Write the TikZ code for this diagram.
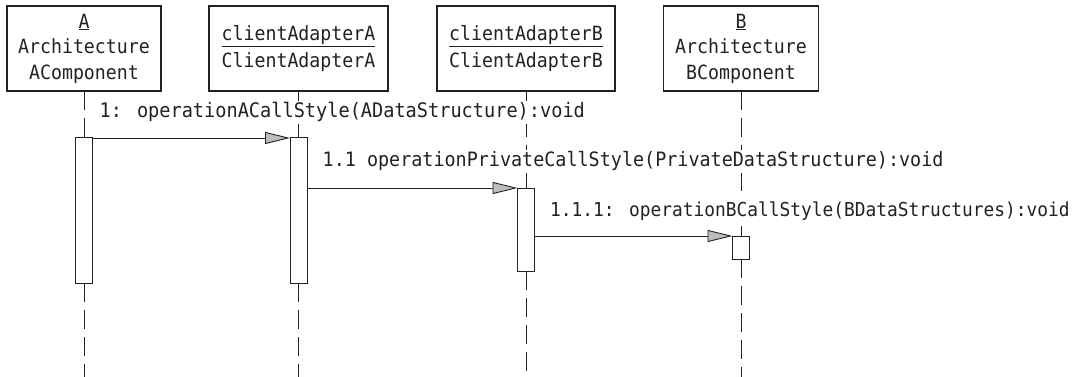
\documentclass[tikz,border=0pt]{standalone}
\usepackage{fontspec}
\usetikzlibrary{arrows.meta}
\newfontfamily\umlfont{DejaVu Sans Mono}[FakeStretch=0.93]
\definecolor{ink}{HTML}{222222}
\definecolor{headfill}{HTML}{BDBDBD}
\begin{document}
\begin{tikzpicture}[x=1pt,y=-1pt,
  every node/.style={font=\umlfont\fontsize{19.6}{25.5}\selectfont, text=ink},
  objbox/.style={draw=ink, line width=1.1pt, fill=white, minimum height=85pt, inner sep=0pt, outer sep=0pt, align=center},
  actbar/.style={draw=ink, line width=1pt, fill=white, minimum width=17pt, inner sep=0pt, outer sep=0pt},
  lifeline/.style={draw=ink, line width=0.9pt, dash pattern=on 19pt off 8pt},
  msg/.style={draw=ink, line width=0.9pt, -{Triangle[length=25pt,width=12pt,fill=headfill]}},
  msglabel/.style={anchor=base west, inner sep=2pt, fill=white}
]
\useasboundingbox (0,0) rectangle (1076,377);
\coordinate (bottom) at (0,377);

% object boxes
\node[objbox, minimum width=154pt] (A) at (84,48.5) {\underline{A}\\Architecture\\AComponent};
\node[objbox, minimum width=179pt] (CA) at (298.5,48.5) {\underline{clientAdapterA}\\[1pt]ClientAdapterA};
\node[objbox, minimum width=178pt] (CB) at (526,48.5) {\underline{clientAdapterB}\\[1pt]ClientAdapterB};
\node[objbox, minimum width=155pt] (B) at (741,48.5) {\underline{B}\\Architecture\\BComponent};

% activation bars
\node[actbar, minimum height=145pt] (Abar) at (84,210.5) {};
\node[actbar, minimum height=145pt] (CAbar) at (298.5,210.5) {};
\node[actbar, minimum height=83pt] (CBbar) at (526,229.5) {};
\node[actbar, minimum height=23pt] (Bbar) at (741,247.5) {};

% lifelines
\draw[lifeline] (A.south) -- (Abar.north);
\draw[lifeline] (Abar.south) -- (Abar.south |- bottom);
\draw[lifeline] (CA.south) -- (CAbar.north);
\draw[lifeline] (CAbar.south) -- (CAbar.south |- bottom);
\draw[lifeline] (CB.south) -- (CBbar.north);
\draw[lifeline] (CBbar.south) -- (CBbar.south |- bottom);
\draw[lifeline] (B.south) -- (Bbar.north);
\draw[lifeline] (Bbar.south) -- (Bbar.south |- bottom);

% messages
\draw[msg] (Abar.north east) -- (CAbar.north west);
\draw[msg] (CAbar.east |- CBbar.north) -- (CBbar.north west);
\draw[msg] (CBbar.east |- Bbar.north) -- (Bbar.north west);

% message labels
\node[msglabel, font=\umlfont\fontsize{20}{24}\selectfont] (m1) at (97.5,118) {1: operationACallStyle(ADataStructure):void};
\node[msglabel, font=\umlfont\fontsize{19.8}{24}\selectfont] (m2) at (320.5,167) {1.1 operationPrivateCallStyle(PrivateDataStructure):void};
\node[msglabel, font=\umlfont\fontsize{19.2}{24}\selectfont] (m3) at (548,216) {1.1.1: operationBCallStyle(BDataStructures):void};
\end{tikzpicture}
\end{document}
